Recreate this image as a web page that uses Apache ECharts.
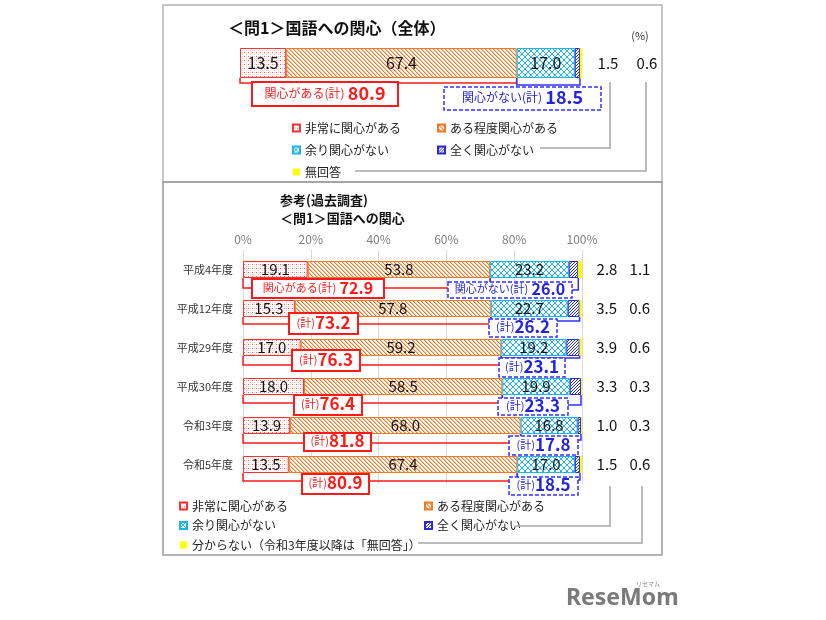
<!DOCTYPE html>
<html><head><meta charset="utf-8">
<script src="https://cdn.jsdelivr.net/npm/echarts@6/dist/echarts.min.js"></script>
<style>html,body{margin:0;padding:0;background:#fff}#c{width:826px;height:620px}</style>
</head><body><div id="c"></div>
<script>
const FONT = '"Noto Sans CJK JP","Noto Sans",sans-serif';

// ---------- data ----------
const seriesNames = ['非常に関心がある','ある程度関心がある','余り関心がない','全く関心がない','無回答'];
const bottomLastName = '分からない（令和3年度以降は「無回答」）';
const topCategory = ['全体'];
const topValues = [13.5, 67.4, 17.0, 1.5, 0.6];
const topInterestTotal = 80.9;
const topNoInterestTotal = 18.5;
const years = ['平成4年度','平成12年度','平成29年度','平成30年度','令和3年度','令和5年度'];
const veryInterested = [19.1, 15.3, 17.0, 18.0, 13.9, 13.5];
const somewhatInterested = [53.8, 57.8, 59.2, 58.5, 68.0, 67.4];
const notVery = [23.2, 22.7, 19.2, 19.9, 16.8, 17.0];
const notAtAll = [2.8, 3.5, 3.9, 3.3, 1.0, 1.5];
const noAnswer = [1.1, 0.6, 0.6, 0.3, 0.3, 0.6];
const interestTotal = [72.9, 73.2, 76.3, 76.4, 81.8, 80.9];
const noInterestTotal = [26.0, 26.2, 23.1, 23.3, 17.8, 18.5];
const xTicks = [0, 20, 40, 60, 80, 100];

// ---------- layout (pixels) ----------
const redBoxes  = [[252,279,132,19],[289,313,69,21],[292,350,68,21],[294,395,68,20],[304,433,67,18],[302,474,67,20]];
const blueBoxes = [[448,282,124,16],[489,319,68,18],[499,358,66,19],[498,398,70,17],[509,436,69,19],[509,477,69,18]];
const redLineY  = [288, 324, 365, 403, 443, 481];
const blueLineY = [290, 321, 358, 405, 440, 480];

// ---------- patterns ----------
function pat(size, draw){
  const c = document.createElement('canvas'); c.width = c.height = size;
  const g = c.getContext('2d'); g.fillStyle = '#fff'; g.fillRect(0,0,size,size);
  draw(g, size); return {image: c, repeat: 'repeat'};
}
const redPat = pat(4, g => { g.fillStyle='#ff5a5a'; g.fillRect(0,0,1,1); g.fillStyle='#ffc4c4'; g.fillRect(2,2,1,1); g.fillRect(2,0,1,1); g.fillStyle='#ffe0e0'; g.fillRect(0,2,1,1); });
const orangePat = pat(4, g => { for(let i=0;i<4;i++){ g.fillStyle='#f37a24'; g.fillRect(i,i,1,1); g.fillStyle='#fac39b'; g.fillRect((i+1)%4,i,1,1);} });
const cyanPat = pat(6, g => { g.fillStyle='#1ab4ef'; for(let i=0;i<6;i++){ g.fillRect(i,i,1,1); g.fillRect(5-i,i,1,1);} });
const bluePat = pat(3, g => { g.fillStyle='#2b2bd4'; for(let i=0;i<3;i++){ g.fillRect(2-i,i,1,1);} });
const itemStyles = [
  {color: redPat, borderColor: '#ff3030', borderWidth: 1},
  {color: orangePat, borderColor: '#f37a24', borderWidth: 1},
  {color: cyanPat, borderColor: '#1ab4ef', borderWidth: 1},
  {color: bluePat, borderColor: '#2b2bd4', borderWidth: 1},
  {color: '#ffff00', borderWidth: 0}
];

const fmt = v => Number(v).toFixed(1);

function makeSeries(gridIdx, dataArrays, names, barWidth, labelSize, rightA, rightB){
  return dataArrays.map((arr, k) => {
    const s = {
      name: names[k], type: 'bar', stack: 'g' + gridIdx, xAxisIndex: gridIdx, yAxisIndex: gridIdx,
      barWidth: barWidth, data: arr, itemStyle: itemStyles[k], animation: false,
      emphasis: {disabled: true},
      label: {show: k < 3, position: 'inside', color: '#111', fontSize: labelSize, fontFamily: FONT,
              formatter: p => fmt(p.value)}
    };
    if (k === 4) {
      s.label = {show: true, position: 'right', distance: 4, fontFamily: FONT, color: '#111',
        formatter: p => '{a|' + fmt(rightA[p.dataIndex]) + '}{b|' + fmt(rightB[p.dataIndex]) + '}',
        rich: {a: {width: gridIdx === 0 ? 44 : 42, align: 'center', fontSize: 15, fontFamily: FONT, color: '#111'},
               b: {width: gridIdx === 0 ? 34 : 24, align: 'center', fontSize: 15, fontFamily: FONT, color: '#111'}}};
    }
    return s;
  });
}

const topSeries = makeSeries(0, topValues.map(v => [v]), seriesNames, 30, 16, [topValues[3]], [topValues[4]]);
const bottomNames = seriesNames.slice(0,4).concat([bottomLastName]);
const bottomSeries = makeSeries(1, [veryInterested, somewhatInterested, notVery, notAtAll, noAnswer], bottomNames, 17, 15, notAtAll, noAnswer);

const legendBase = {orient: 'vertical', padding: 0, itemWidth: 7, itemHeight: 7, icon: 'rect', selectedMode: false,
  textStyle: {fontSize: 12, lineHeight: 16, color: '#222', fontFamily: FONT}};

const chart = echarts.init(document.getElementById('c'), null, {renderer: 'canvas'});
const option = {
  backgroundColor: '#fff',
  animation: false,
  textStyle: {fontFamily: FONT},
  grid: [
    {left: 240, width: 342, top: 48, height: 30},
    {left: 243, width: 339, top: 250, height: 234}
  ],
  xAxis: [
    {gridIndex: 0, type: 'value', min: 0, max: 100, show: false},
    {gridIndex: 1, type: 'value', min: xTicks[0], max: xTicks[xTicks.length-1], interval: xTicks[1]-xTicks[0], position: 'top',
     axisLine: {show: false}, axisTick: {show: false},
     axisLabel: {formatter: '{value}%', color: '#7f7f7f', fontSize: 12, margin: 5, fontFamily: FONT},
     splitLine: {show: true, lineStyle: {color: '#d9d9d9', width: 1}}}
  ],
  yAxis: [
    {gridIndex: 0, type: 'category', data: topCategory, show: false},
    {gridIndex: 1, type: 'category', data: years, inverse: true,
     axisLine: {show: false}, axisTick: {show: false},
     axisLabel: {color: '#333', fontSize: 11, margin: 10, fontFamily: FONT}}
  ],
  legend: [
    Object.assign({}, legendBase, {left: 292, top: 120, itemGap: 6, data: [seriesNames[0], seriesNames[2], seriesNames[4]]}),
    Object.assign({}, legendBase, {left: 437, top: 120, itemGap: 6, data: [seriesNames[1], seriesNames[3]]}),
    Object.assign({}, legendBase, {left: 179, top: 498, itemGap: 3.5, data: [seriesNames[0], seriesNames[2], bottomLastName]}),
    Object.assign({}, legendBase, {left: 424, top: 498, itemGap: 3.5, data: [seriesNames[1], seriesNames[3]]})
  ],
  series: topSeries.concat(bottomSeries)
};
chart.setOption(option);

// ---------- annotations built from data via axis conversion ----------
const g = [];
const px = (gi, v, c) => chart.convertToPixel({gridIndex: gi}, [v, c]);
// frames
g.push({type: 'rect', z: 1, shape: {x: 163, y: 5, width: 499, height: 177}, style: {fill: 'none', stroke: '#b4b4b4', lineWidth: 1.5}});
g.push({type: 'rect', z: 1, shape: {x: 163, y: 182, width: 499, height: 373}, style: {fill: 'none', stroke: '#9a9a9a', lineWidth: 1.5}});
// titles
g.push({type: 'text', z: 50, style: {x: 228, y: 28, text: '＜問1＞国語への関心（全体）', font: 'bold 16px ' + FONT, fill: '#111', verticalAlign: 'middle'}});
g.push({type: 'text', z: 50, style: {x: 640, y: 36, text: '(%)', font: '11px ' + FONT, fill: '#333', align: 'center', verticalAlign: 'middle'}});
g.push({type: 'text', z: 50, style: {x: 280, y: 200, text: '参考(過去調査)', font: 'bold 13px ' + FONT, fill: '#111', verticalAlign: 'middle'}});
g.push({type: 'text', z: 50, style: {x: 280, y: 218, text: '＜問1＞国語への関心', font: 'bold 13px ' + FONT, fill: '#111', verticalAlign: 'middle'}});

function bracket(points, color, z){
  return {type: 'polyline', z: z || 60, shape: {points: points}, style: {fill: 'none', stroke: color, lineWidth: 1.5}};
}
function box(b, color, dashed, richText, rich){
  return {type: 'group', z: 70, children: [
    {type: 'rect', z: 70, shape: {x: b[0], y: b[1], width: b[2], height: b[3]},
     style: {fill: '#fff', stroke: color, lineWidth: dashed ? 1.5 : 2, lineDash: dashed ? [4, 2] : null}},
    {type: 'text', z: 71, style: {x: b[0] + b[2] / 2, y: b[1] + b[3] / 2 - 1, text: richText, rich: rich, align: 'center', verticalAlign: 'middle'}}
  ]};
}
function rich(color, s, b){
  return {s: {fontSize: s, fill: color, fontFamily: FONT, verticalAlign: 'middle'},
          b: {fontSize: b, fontWeight: 'bold', fill: color, fontFamily: FONT, verticalAlign: 'middle'}};
}
const RED = '#ff1a1a', BLUE = '#2424e0';

// top brackets
{
  const c = px(0, 0, 0); const x0 = c[0]; const bb = c[1] + 15;
  const xm = px(0, topValues[0] + topValues[1], 0)[0];
  const xe = px(0, topValues[0] + topValues[1] + topValues[2] + topValues[3], 0)[0];
  g.push(bracket([[x0, bb], [x0, 83], [xm, 83], [xm, bb]], RED));
  g.push(bracket([[xm, bb], [xm, 85], [xe, 85], [xe, bb]], '#3030ff'));
  g.push(box([252, 82, 146, 24], RED, false, '{s|関心がある(計)} {b|' + fmt(topInterestTotal) + '}', rich(RED, 12, 18)));
  g.push(box([444, 87, 157, 23], '#3030ff', true, '{s|関心がない(計)} {b|' + fmt(topNoInterestTotal) + '}', rich(BLUE, 12, 18)));
}
// bottom brackets
years.forEach((y, i) => {
  const c = px(1, 0, i); const x0 = c[0]; const bb = c[1] + 8.5;
  const xm = px(1, veryInterested[i] + somewhatInterested[i], i)[0];
  const xe = px(1, veryInterested[i] + somewhatInterested[i] + notVery[i] + notAtAll[i], i)[0];
  g.push(bracket([[x0, bb], [x0, redLineY[i]], [xm, redLineY[i]], [xm, bb]], RED));
  g.push(bracket([[xm, bb], [xm, blueLineY[i]], [xe, blueLineY[i]], [xe, bb]], '#3030ff'));
  const rt = i === 0 ? '{s|関心がある(計)} {b|' + fmt(interestTotal[i]) + '}' : '{s|(計)}{b|' + fmt(interestTotal[i]) + '}';
  const bt = i === 0 ? '{s|関心がない(計)} {b|' + fmt(noInterestTotal[i]) + '}' : '{s|(計)}{b|' + fmt(noInterestTotal[i]) + '}';
  const big = i === 0 ? 16 : 17;
  g.push(box(redBoxes[i], RED, false, rt, rich(RED, 11, big)));
  g.push(box(blueBoxes[i], '#3030ff', true, bt, rich(BLUE, 11, big)));
});
// legend connector lines (decorative)
const gray = {fill: 'none', stroke: '#a6a6a6', lineWidth: 1.5};
g.push({type: 'polyline', z: 5, shape: {points: [[610, 82], [610, 148], [540, 148]]}, style: gray});
g.push({type: 'polyline', z: 5, shape: {points: [[646, 82], [646, 171], [355, 171]]}, style: gray});
g.push({type: 'polyline', z: 5, shape: {points: [[610, 486], [610, 526], [515, 526]]}, style: gray});
g.push({type: 'polyline', z: 5, shape: {points: [[642, 486], [642, 543], [418, 543]]}, style: gray});
// watermark
g.push({type: 'text', z: 50, style: {x: 566, y: 598, text: 'ReseMom', font: 'bold 23px "Noto Sans", sans-serif', fill: '#7a7a7a', verticalAlign: 'middle'}});
g.push({type: 'text', z: 50, style: {x: 636, y: 584, text: 'リセマム', font: '6px ' + FONT, fill: '#8a8a8a', verticalAlign: 'middle'}});

chart.setOption({graphic: g});
</script>
</body></html>
